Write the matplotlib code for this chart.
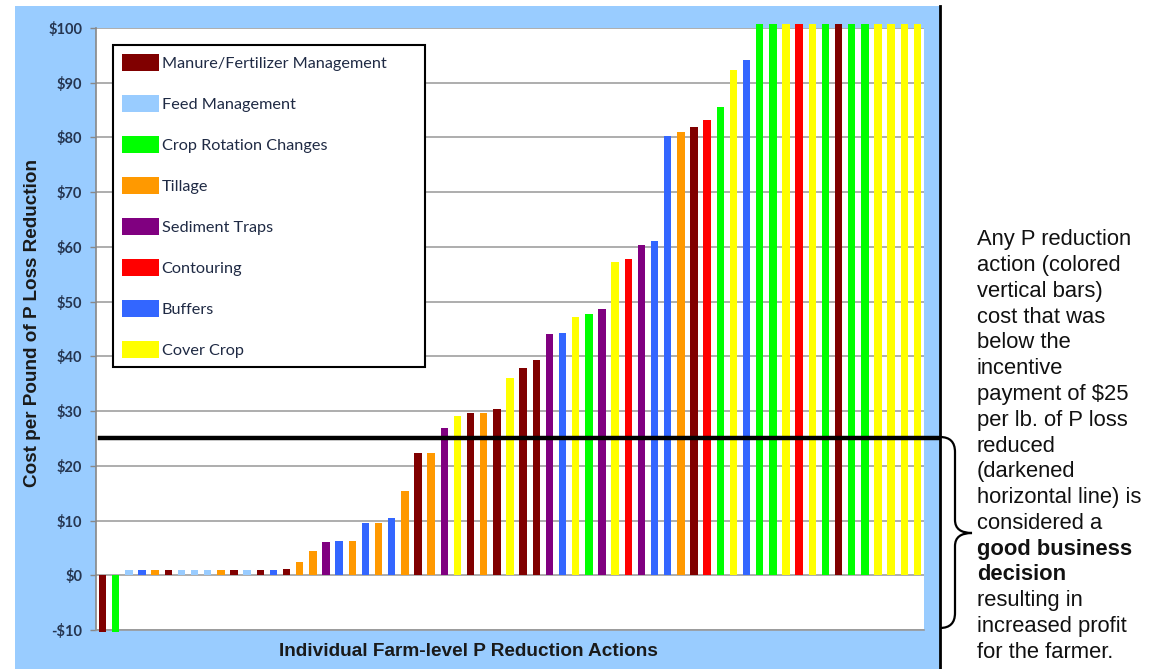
import matplotlib
matplotlib.use('Agg')
import matplotlib.pyplot as plt
import matplotlib.patches as mpatches
import matplotlib.transforms as mtransforms
from matplotlib.path import Path
import numpy as np

# Categories and colours
categories = ['Manure/Fertilizer Management', 'Feed Management', 'Crop Rotation Changes',
              'Tillage', 'Sediment Traps', 'Contouring', 'Buffers', 'Cover Crop']
cat_keys = ['MF', 'FM', 'CR', 'TI', 'ST', 'CO', 'BU', 'CC']
cat_colors = ['#800000', '#99ccff', '#00ff00', '#ff9900', '#800080', '#ff0000', '#3366ff', '#ffff00']

# One entry per bar, left to right
bar_types = ['MF', 'CR', 'FM', 'BU', 'TI', 'MF', 'FM', 'FM', 'FM', 'TI',
             'MF', 'FM', 'MF', 'BU', 'MF', 'TI', 'TI', 'ST', 'BU', 'TI',
             'BU', 'TI', 'BU', 'TI', 'MF', 'TI', 'ST', 'CC', 'MF', 'TI',
             'MF', 'CC', 'MF', 'MF', 'ST', 'BU', 'CC', 'CR', 'ST', 'CC',
             'CO', 'ST', 'BU', 'BU', 'TI', 'MF', 'CO', 'CR', 'CC', 'BU',
             'CR', 'CR', 'CC', 'CO', 'CC', 'CR', 'MF', 'CR', 'CR', 'CC',
             'CC', 'CC', 'CC']
bar_costs = [-10.4, -10.4, 1.0, 1.0, 1.0, 1.0, 1.0, 1.0, 1.0, 1.0,
             1.0, 1.0, 1.0, 1.0, 1.1, 2.5, 4.4, 6.0, 6.2, 6.2,
             9.5, 9.6, 10.5, 15.4, 22.3, 22.3, 26.9, 29.1, 29.6, 29.6,
             30.4, 36.0, 37.8, 39.4, 44.0, 44.3, 47.2, 47.8, 48.7, 57.2,
             57.7, 60.4, 61.1, 80.2, 81.0, 82.0, 83.2, 85.5, 92.3, 94.1,
             100.8, 100.8, 100.8, 100.8, 100.8, 100.8, 100.8, 100.8, 100.8, 100.8,
             100.8, 100.8, 100.8]
incentive = 25
y_ticks = list(range(-10, 101, 10))

note_lines = ['Any P reduction', 'action (colored', 'vertical bars)', 'cost that was',
              'below the', 'incentive', 'payment of $25', 'per lb. of P loss',
              'reduced', '(darkened', 'horizontal line) is', 'considered a',
              'good business', 'decision', 'resulting in', 'increased profit',
              'for the farmer.']
bold_lines = {'good business', 'decision'}

W, H = 1158, 669
fig = plt.figure(figsize=(W / 100, H / 100), dpi=100)
fig.patch.set_facecolor('white')

def fx(px):
    return px / W

def fy(py):
    return 1 - py / H

# light blue chart area background
fig.patches.append(mpatches.Rectangle((fx(15), 0), fx(940) - fx(15), fy(6),
                                      transform=fig.transFigure, facecolor='#99ccff',
                                      edgecolor='none', zorder=-5))
# black separator
fig.add_artist(plt.Line2D([fx(940), fx(940)], [0, fy(6)], transform=fig.transFigure,
                          color='black', lw=2))

ax = fig.add_axes([fx(96), fy(630), fx(924) - fx(96), fy(28) - fy(630)])
ax.set_facecolor('white')

color_map = dict(zip(cat_keys, cat_colors))
x = np.arange(len(bar_costs))
bars = ax.bar(x, bar_costs, width=0.56, color=[color_map[t] for t in bar_types],
              zorder=3)
for b in bars:
    b.set_clip_on(False)

ax.set_xlim(-0.5, len(bar_costs) - 0.5)
ax.set_ylim(-10, 100)
ax.set_yticks(y_ticks)
ax.set_yticklabels([('-$%d' % -v) if v < 0 else ('$%d' % v) for v in y_ticks],
                   fontfamily='Lato', fontweight='bold', fontsize=10.5, color='#253550')
ax.set_xticks([])
ax.yaxis.grid(True, color='#a0a0a0', lw=1.2, zorder=1)
ax.set_axisbelow(True)
ax.tick_params(axis='y', length=4, width=1, color='#888888', pad=6)
for s in ['top', 'right']:
    ax.spines[s].set_visible(False)
ax.spines['left'].set_color('#888888')
ax.spines['bottom'].set_color('#999999')
ax.spines['left'].set_linewidth(1.2)
ax.spines['bottom'].set_linewidth(1.2)

# incentive line, running to the separator
trans = mtransforms.blended_transform_factory(fig.transFigure, ax.transData)
ax.plot([fx(100), fx(938)], [incentive, incentive], transform=trans, color='black',
        lw=3.2, zorder=5, clip_on=False)

# legend
handles = [mpatches.Patch(facecolor=c, edgecolor='none', label=l)
           for c, l in zip(cat_colors, categories)]
leg = ax.legend(handles=handles, loc='upper left', bbox_to_anchor=(0.0205, 0.0, 0.377, 0.972),
                mode='expand', borderaxespad=0, frameon=True, fancybox=False, framealpha=1,
                edgecolor='black', handlelength=2.3, handleheight=1.25,
                handletextpad=0.15, labelspacing=1.47, borderpad=0.55,
                prop={'family': 'Lato', 'size': 11.7})
leg.get_frame().set_linewidth(1.5)
for t in leg.get_texts():
    t.set_color('#1f2a44')
leg.set_zorder(6)

fig.text(fx(33), fy(323), 'Cost per Pound of P Loss Reduction', rotation=90,
         ha='center', va='center', fontsize=13.6, fontweight='bold',
         family='Liberation Sans', color='#1a1a1a')
fig.text(fx(468), fy(651), 'Individual Farm-level P Reduction Actions',
         ha='center', va='center', fontsize=13.7, fontweight='bold',
         family='Liberation Sans', color='#1a1a1a')

# side note
for i, line in enumerate(note_lines):
    fig.text(fx(977), fy(240 + 25.75 * i), line, ha='left', va='center',
             fontsize=15.8, family='Liberation Sans', color='#111111',
             fontweight='bold' if line in bold_lines else 'normal')

# curly brace
pts = [(940, 437), (955, 437), (955, 452), (955, 520), (955, 533), (972, 533),
       (955, 533), (955, 546), (955, 613), (955, 628), (940, 628)]
codes = [Path.MOVETO, Path.CURVE3, Path.CURVE3, Path.LINETO, Path.CURVE3, Path.CURVE3,
         Path.CURVE3, Path.CURVE3, Path.LINETO, Path.CURVE3, Path.CURVE3]
brace = Path([(fx(a), fy(b)) for a, b in pts], codes)
fig.patches.append(mpatches.PathPatch(brace, transform=fig.transFigure, fill=False,
                                      edgecolor='black', lw=1.6))

fig.savefig('out.png', dpi=100)
